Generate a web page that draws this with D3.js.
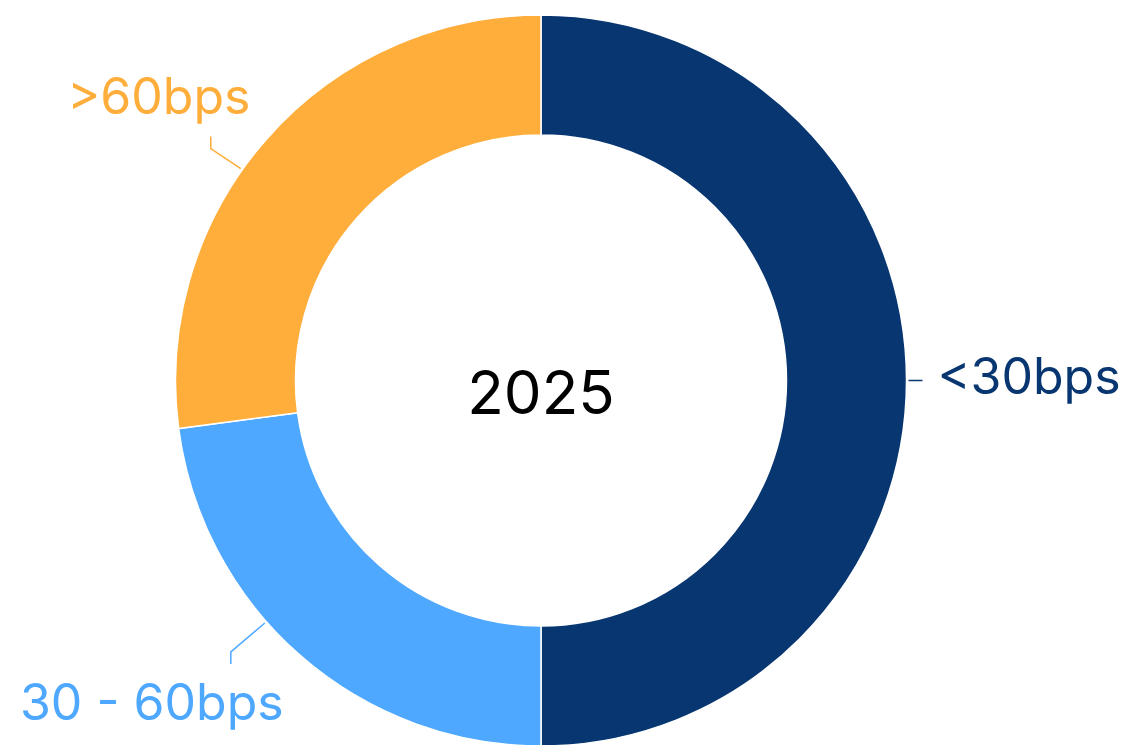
<!DOCTYPE html>
<html><head><meta charset="utf-8">
<script src="https://cdn.jsdelivr.net/npm/d3@7"></script>
<style>html,body{margin:0;padding:0;background:#fff;}svg{display:block;}</style>
</head><body>
<svg id="chart" width="1121" height="745"></svg>
<script>
const categories = ["<30bps", "30 - 60bps", ">60bps"];
const values = [50, 22.9, 27.1];
const colors = ["#083671", "#4ea8ff", "#ffad3b"];
const centerLabel = "2025";

// label layout: angle tweak (deg), bend vector, tail length, text offset from leader end
const labelLayout = [
  {dA: 0,    bend: [3, 0],    tail: [11, 0],   tx: 15,  ty: 13,  anchor: "start"},
  {dA: 7.5,  bend: [-34, 29], tail: [0, 12],   tx: -79, ty: 56,  anchor: "middle"},
  {dA: -6,   bend: [-30, -20],tail: [0, -12],  tx: -52, ty: -23, anchor: "middle"}
];

const W = 1121, H = 745, cx = 541, cy = 380.5, rOuter = 365.5, rInner = 245.5;
const svg = d3.select("#chart");
const g = svg.append("g").attr("transform", `translate(${cx},${cy})`);

const pie = d3.pie().sort(null).value(d => d)(values);
const arc = d3.arc().innerRadius(rInner).outerRadius(rOuter);

g.selectAll("path.slice").data(pie).join("path")
  .attr("class", "slice")
  .attr("d", arc)
  .attr("fill", (d, i) => colors[i])
  .attr("stroke", "#fff").attr("stroke-width", 1.5);

const font = "Inter, 'Open Sans', sans-serif";
g.append("text").attr("x", 0).attr("y", 33)
  .attr("text-anchor", "middle").attr("font-family", font)
  .attr("font-size", 60).attr("fill", "#000").text(centerLabel);

pie.forEach((d, i) => {
  const L = labelLayout[i];
  const a = (d.startAngle + d.endAngle) / 2 + L.dA * Math.PI / 180;
  const r0 = rOuter + 2;
  const p0 = [r0 * Math.sin(a), -r0 * Math.cos(a)];
  const p1 = [p0[0] + L.bend[0], p0[1] + L.bend[1]];
  const p2 = [p1[0] + L.tail[0], p1[1] + L.tail[1]];
  g.append("polyline")
    .attr("points", [p0, p1, p2].map(p => p.join(",")).join(" "))
    .attr("fill", "none").attr("stroke", colors[i]).attr("stroke-width", 1.5);
  g.append("text")
    .attr("x", p2[0] + L.tx).attr("y", p2[1] + L.ty)
    .attr("text-anchor", L.anchor).attr("font-family", font)
    .attr("font-size", 50).attr("fill", colors[i])
    .text(categories[i]);
});
</script>
</body></html>
